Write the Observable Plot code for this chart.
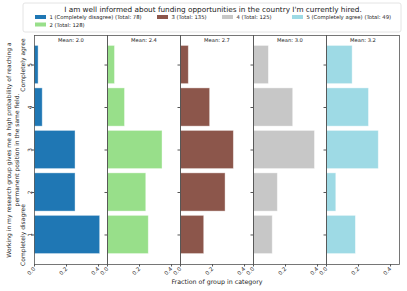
<!DOCTYPE html>
<html><head><meta charset="utf-8">
<script src="https://cdn.jsdelivr.net/npm/d3@7"></script>
<script src="https://cdn.jsdelivr.net/npm/@observablehq/plot@0.6"></script>
<style>
body{margin:0;background:#fff;font-family:"DejaVu Sans",sans-serif}
#wrap{position:relative;width:407px;height:291px}
#wrap svg{position:absolute;left:0;top:0}
</style></head><body><div id="wrap"></div>
<script>
const title = "I am well informed about funding opportunities in the country I'm currently hired.";
const groupIds = [1, 2, 3, 4, 5];
const groupNames = ["1 (Completely disagree)", "2", "3", "4", "5 (Completely agree)"];
const totals = [78, 128, 135, 125, 49];
const means = ["2.0", "2.4", "2.7", "3.0", "3.2"];
const categories = [1, 2, 3, 4, 5];
// counts per answer category 1..5, for each group
const counts1 = [32, 20, 20, 4, 2];
const counts2 = [33, 31, 44, 14, 6];
const counts3 = [20, 38, 45, 25, 7];
const counts4 = [15, 19, 48, 31, 12];
const counts5 = [9, 3, 16, 13, 8];
const colors = ["#1f77b4", "#98df8a", "#8c564b", "#c7c7c7", "#9edae5"];
const xTicks = [0, 0.2, 0.4];
const xLabel = "Fraction of group in category";
const yLabel = "Working in my research group gives me a high probability of reaching a\npermanent position in the same field.";
const catLabels = [{cat: 1, label: "Completely disagree"}, {cat: 5, label: "Completely agree"}];

const allCounts = [counts1, counts2, counts3, counts4, counts5];
const rows = [];
groupIds.forEach((g, gi) => categories.forEach((c, ci) => rows.push({group: g, cat: c, frac: allCounts[gi][ci] / totals[gi]})));
const meanRows = groupIds.map((g, i) => ({group: g, text: "Mean: " + means[i]}));

const plot = Plot.plot({
  width: 407, height: 291,
  marginLeft: 33.3, marginRight: 6.3, marginTop: 35, marginBottom: 27,
  style: {fontFamily: "DejaVu Sans", fontSize: "5.5px", background: "white", color: "#222"},
  fx: {domain: groupIds, padding: 0, axis: null},
  x: {domain: [0, 0.456], label: null},
  y: {domain: [0.305, 5.695], label: null},
  color: {domain: groupIds, range: colors},
  marks: [
    Plot.rectX(rows, {fx: "group", x1: 0, x2: "frac", y1: d => d.cat - 0.45, y2: d => d.cat + 0.45, fill: "group", stroke: "white", strokeOpacity: 0.5, strokeWidth: 0.8}),
    Plot.frame({stroke: "#555", strokeWidth: 0.8}),
    Plot.axisX({ticks: xTicks, tickFormat: d3.format(".1f"), tickSize: 2.5, tickRotate: -45, tickPadding: 1, label: null, stroke: "#555"}),
    Plot.axisY({ticks: categories, tickSize: 2.5, text: null, facetAnchor: null, stroke: "#555", label: null}),
    Plot.text(categories, {fx: () => 1, y: d => d, text: d => String(d), frameAnchor: "left", textAnchor: "middle", dx: -4.5, rotate: -90, fontSize: 5.8}),
    Plot.text(meanRows, {fx: "group", text: "text", frameAnchor: "top", dy: 2.5, fontSize: 5.2, fontWeight: "normal"}),
    Plot.text(catLabels, {fx: () => 1, y: "cat", text: "label", frameAnchor: "left", textAnchor: "middle", dx: -11.5, rotate: -90, fontSize: 6}),
    Plot.text([yLabel], {fx: () => 1, text: d => d, frameAnchor: "left", textAnchor: "middle", dx: -22.5, rotate: -90, fontSize: 6, lineHeight: 1.35})
  ]
});
const wrap = document.getElementById("wrap");
wrap.appendChild(plot);

// legend + x label overlay
const svg = d3.select(wrap).append("svg").attr("width", 407).attr("height", 291)
  .style("pointer-events", "none").style("font-family", "DejaVu Sans");
svg.append("rect").attr("x", 23).attr("y", 3).attr("width", 378).attr("height", 29)
  .attr("rx", 2).attr("fill", "white").attr("fill-opacity", 0.85).attr("stroke", "#ddd").attr("stroke-width", 0.8);
svg.append("text").attr("x", 213).attr("y", 11.5).attr("text-anchor", "middle").attr("font-size", 7.3).attr("fill", "#222").text(title);
const legendPos = [[35, 17], [35, 24.5], [157, 17], [222, 17], [292, 17]];
groupIds.forEach((g, i) => {
  const [x, y] = legendPos[i];
  svg.append("rect").attr("x", x).attr("y", y - 2).attr("width", 11).attr("height", 4).attr("fill", colors[i]);
  svg.append("text").attr("x", x + 14.5).attr("y", y + 2).attr("font-size", 5.3).attr("fill", "#222")
    .text(groupNames[i] + " (Total: " + totals[i] + ")");
});
svg.append("text").attr("x", 217).attr("y", 284).attr("text-anchor", "middle").attr("font-size", 6.3).attr("fill", "#222").text(xLabel);
</script></body></html>
